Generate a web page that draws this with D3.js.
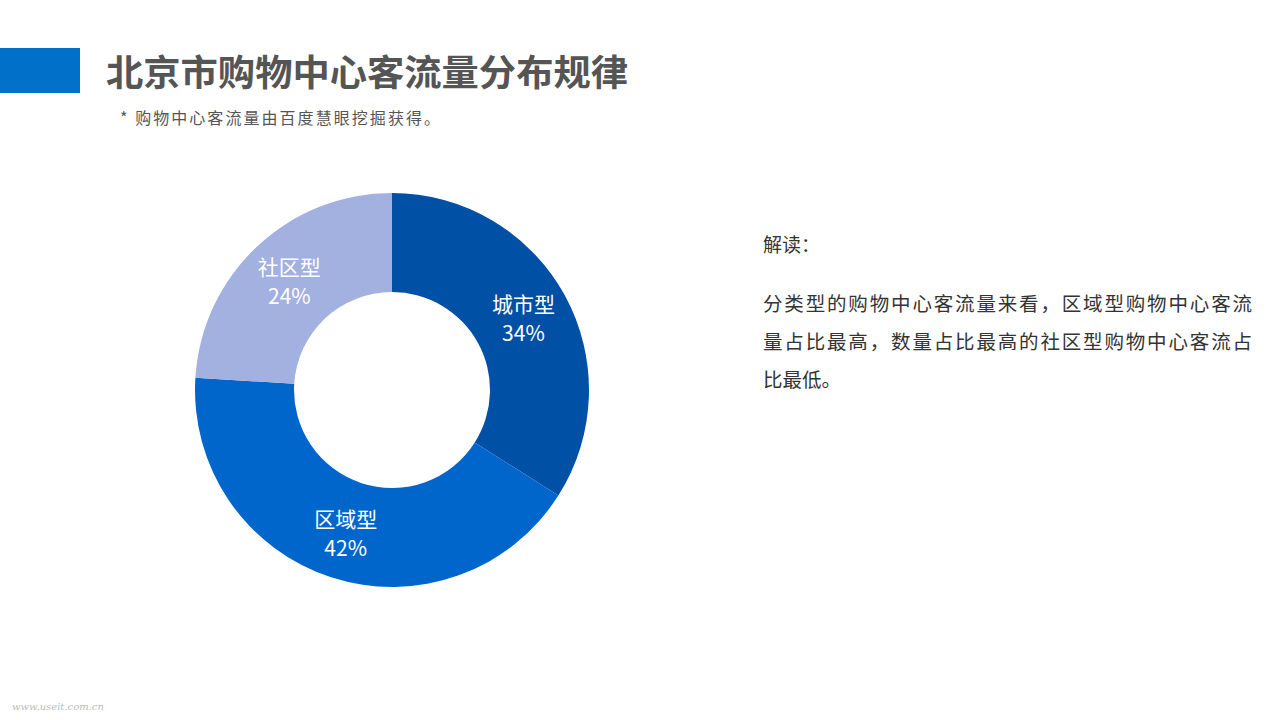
<!DOCTYPE html>
<html><head><meta charset="utf-8">
<script src="https://cdn.jsdelivr.net/npm/d3@7"></script>
<style>body{margin:0;background:#fff;font-family:"Noto Sans CJK SC","Noto Sans",sans-serif}</style>
</head><body><svg id="c" width="1280" height="720"></svg>
<script>
const categories=["城市型","区域型","社区型"];
const values=[34,42,24];
const colors=["#0050a6","#0066cc","#a2b1e0"];
const paragraph=["分类型的购物中心客流量来看，区域型购物中心客流","量占比最高，数量占比最高的社区型购物中心客流占","比最低。"];
const svg=d3.select("#c");
const font='"Noto Sans CJK SC",sans-serif';
svg.append("rect").attr("x",0).attr("y",48).attr("width",80).attr("height",45).attr("fill","#0070c8");
svg.append("text").attr("x",106).attr("y",86).attr("font-size",36).attr("font-weight","bold").attr("fill","#555").attr("font-family",font).attr("textLength",522).attr("lengthAdjust","spacingAndGlyphs").text("北京市购物中心客流量分布规律");
svg.append("text").attr("x",120).attr("y",124).attr("font-size",16).attr("fill","#555").attr("font-family",font).attr("textLength",320).text("* 购物中心客流量由百度慧眼挖掘获得。");
const cx=392,cy=390,R=197,r=98;
const pie=d3.pie().sort(null).value(d=>d)(values);
const arc=d3.arc().innerRadius(r).outerRadius(R);
const g=svg.append("g").attr("transform",`translate(${cx},${cy})`);
g.selectAll("path").data(pie).join("path").attr("d",arc).attr("fill",(d,i)=>colors[i]);
const la=d3.arc().innerRadius(150).outerRadius(150);
pie.forEach((d,i)=>{const [x,y]=la.centroid(d);
 const t=g.append("text").attr("text-anchor","middle").attr("fill","#fff").attr("font-size",21).attr("font-family",font);
 t.append("tspan").attr("x",x).attr("y",y-6).text(categories[i]);
 t.append("tspan").attr("x",x).attr("y",y+23).text(values[i]+"%");});
svg.append("text").attr("x",763).attr("y",252).attr("font-size",19).attr("fill","#333").attr("font-family",font).text("解读：");
paragraph.forEach((l,i)=>{const t=svg.append("text").attr("x",763).attr("y",311+i*38).attr("font-size",19.5).attr("fill","#333").attr("font-family",font).text(l); if(i<2)t.attr("textLength",489);});
svg.append("text").attr("x",12).attr("y",710).attr("font-size",10).attr("font-style","italic").attr("fill","#bbb").attr("font-family","DejaVu Serif").text("www.useit.com.cn");
</script></body></html>
